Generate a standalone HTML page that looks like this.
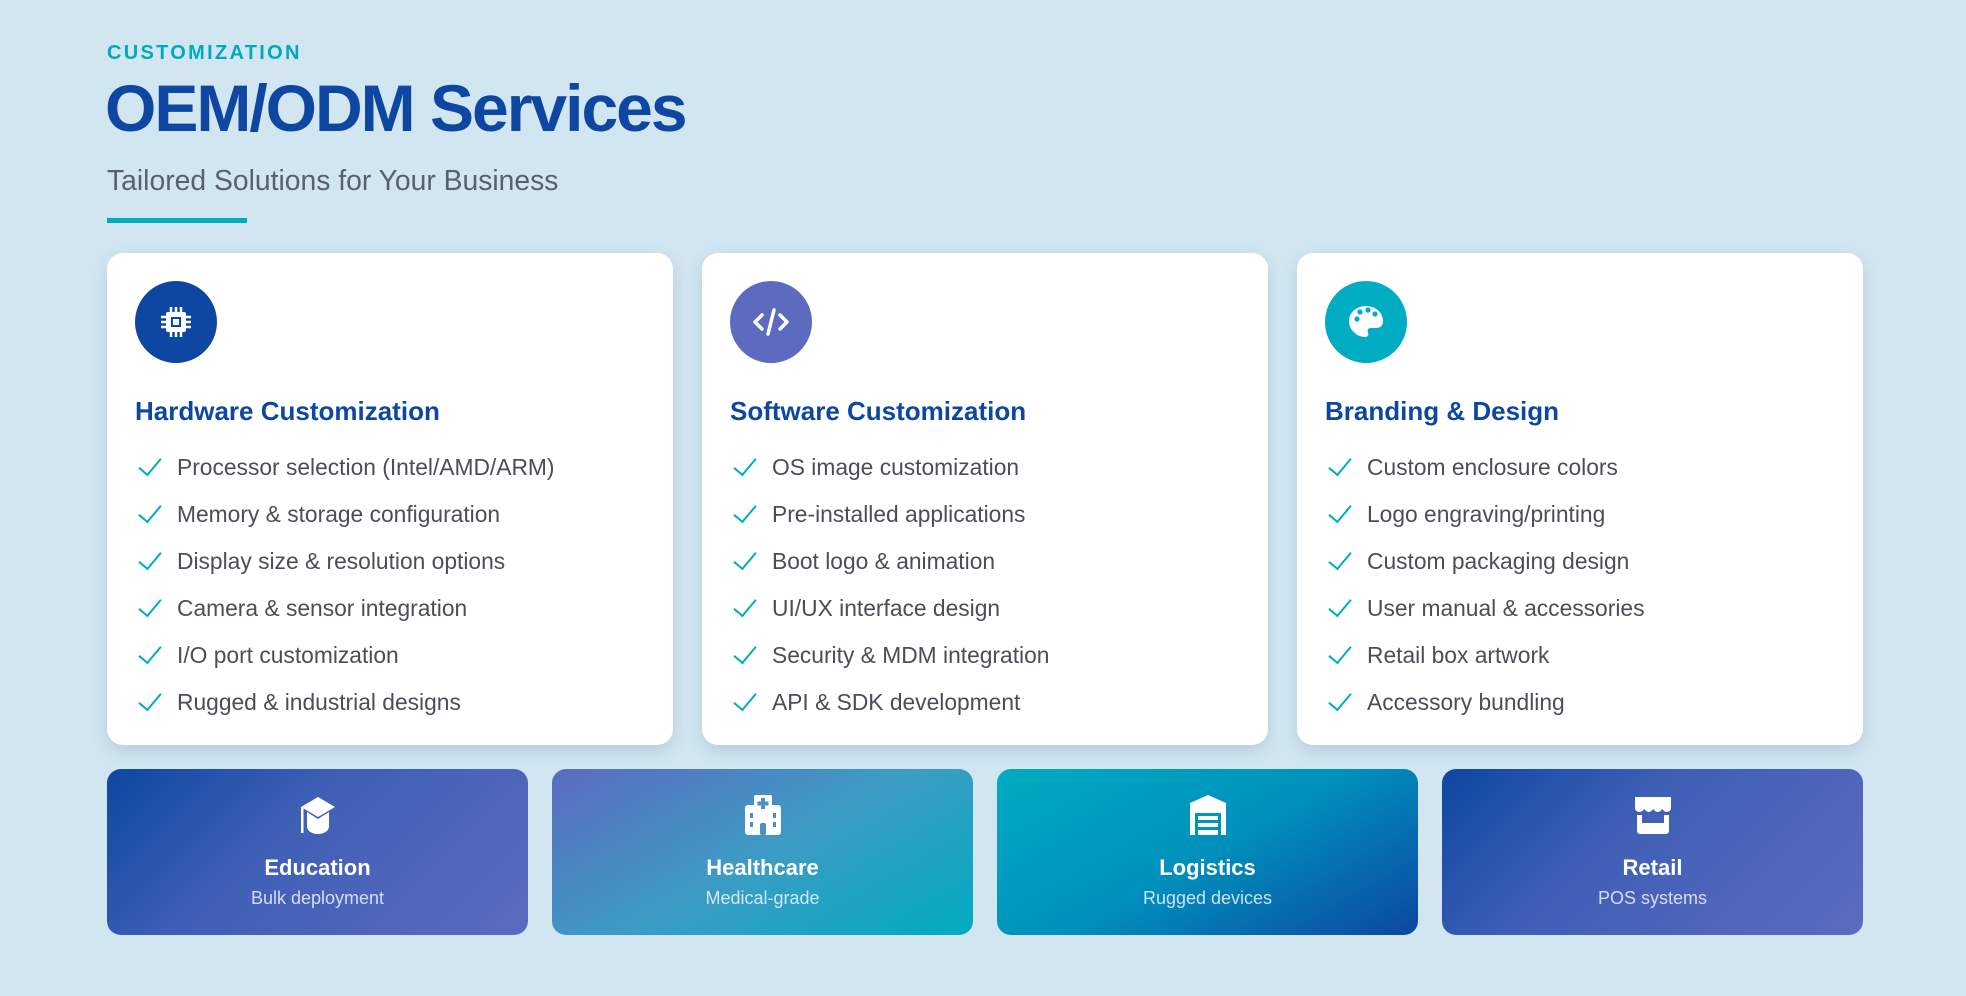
<!DOCTYPE html>
<html><head><meta charset="utf-8"><style>
*{margin:0;padding:0;box-sizing:border-box}
body{width:1966px;height:996px;background:#d1e6f1;font-family:"Liberation Sans",sans-serif;position:relative;overflow:hidden}
.a{position:absolute}
.kick{left:107px;top:41px;font-size:20px;font-weight:bold;color:#00a9be;letter-spacing:2.3px;line-height:24px}
.title{left:105px;top:70px;font-size:66px;font-weight:bold;color:#0d47a1;letter-spacing:-2px;line-height:76px;white-space:nowrap}
.sub{left:107px;top:164px;font-size:28.3px;color:#58616b;line-height:32px;white-space:nowrap}
.bar{left:107px;top:218px;width:140px;height:5px;background:#00acc1}
.card{top:253px;width:566px;height:492px;background:#fff;border-radius:16px;box-shadow:0 6px 16px rgba(60,100,140,.18)}
.ic{position:absolute;left:28px;top:28px;width:82px;height:82px;border-radius:50%;display:flex;align-items:center;justify-content:center}
.ct{position:absolute;left:28px;top:145px;font-size:26px;font-weight:bold;color:#0d47a1;line-height:26px;white-space:nowrap}
ul{position:absolute;left:31px;top:191px;list-style:none}
li{height:47px;line-height:47px;font-size:22.8px;color:#4a4f56;white-space:nowrap;position:relative;padding-left:39px}
li:before{content:"";position:absolute;left:6px;top:9px;width:10px;height:20px;border-right:2.5px solid #00acc1;border-bottom:2.5px solid #00acc1;transform:rotate(40deg)}
.bc{top:769px;width:421px;height:166px;border-radius:14px;color:#fff;text-align:center}
.bc svg{position:absolute;left:189px;top:24px}
.bt{position:absolute;left:0;right:0;top:87px;font-size:22px;font-weight:bold;line-height:24px}
.bs{position:absolute;left:0;right:0;top:119px;font-size:18px;line-height:20px;color:rgba(255,255,255,.78)}
</style></head><body>
<div class="a kick">CUSTOMIZATION</div>
<div class="a title">OEM/ODM Services</div>
<div class="a sub">Tailored Solutions for Your Business</div>
<div class="a bar"></div>

<div class="a card" style="left:107px">
<div class="ic" style="background:#0d47a1"><svg width="34" height="34" viewBox="0 0 34 34"><rect x="7" y="7" width="20" height="20" rx="2" fill="#fff"/><rect x="12" y="12" width="10" height="10" fill="#0d47a1"/><rect x="14" y="14" width="6" height="6" fill="#fff"/><g stroke="#fff" stroke-width="2.5"><path d="M12 2v5M17 2v5M22 2v5M12 27v5M17 27v5M22 27v5M2 12h5M2 17h5M2 22h5M27 12h5M27 17h5M27 22h5"/></g></svg></div>
<div class="ct">Hardware Customization</div>
<ul><li>Processor selection (Intel/AMD/ARM)</li><li>Memory &amp; storage configuration</li><li>Display size &amp; resolution options</li><li>Camera &amp; sensor integration</li><li>I/O port customization</li><li>Rugged &amp; industrial designs</li></ul>
</div>
<div class="a card" style="left:702px">
<div class="ic" style="background:#5c6bc0"><svg width="40" height="34" viewBox="0 0 40 34"><g fill="none" stroke="#fff" stroke-width="3.5" stroke-linecap="round" stroke-linejoin="round"><path d="M11 10l-7 7 7 7M29 10l7 7-7 7M23 5l-6 24"/></g></svg></div>
<div class="ct">Software Customization</div>
<ul><li>OS image customization</li><li>Pre-installed applications</li><li>Boot logo &amp; animation</li><li>UI/UX interface design</li><li>Security &amp; MDM integration</li><li>API &amp; SDK development</li></ul>
</div>
<div class="a card" style="left:1297px">
<div class="ic" style="background:#00acc1"><svg width="38" height="36" viewBox="0 0 38 36"><path d="M19 2C9 2 2 9 2 17c0 9 8 16 16 16 3 0 4-2 3-4-1-3 0-5 3-5h5c5 0 7-3 7-7C36 9 29 2 19 2z" fill="#fff"/><g fill="#00acc1"><circle cx="10" cy="15" r="2.6"/><circle cx="13" cy="8" r="2.6"/><circle cx="21" cy="6" r="2.6"/><circle cx="28" cy="10" r="2.6"/></g></svg></div>
<div class="ct">Branding &amp; Design</div>
<ul><li>Custom enclosure colors</li><li>Logo engraving/printing</li><li>Custom packaging design</li><li>User manual &amp; accessories</li><li>Retail box artwork</li><li>Accessory bundling</li></ul>
</div>

<div class="a bc" style="left:107px;background:linear-gradient(135deg,#0d47a1 0%,#3f5fb6 40%,#5c6bc0 100%)">
<svg width="44" height="44" viewBox="0 0 44 44"><path d="M22 4l17 10-17 10L5 14z" fill="#fff"/><path d="M11 19v14c0 5 5 8 11 8s11-3 11-8V19l-11 7z" fill="#fff"/><rect x="5" y="14" width="2.5" height="26" fill="#fff"/></svg>
<div class="bt">Education</div><div class="bs">Bulk deployment</div></div>
<div class="a bc" style="left:552px;background:linear-gradient(150deg,#5c6bc0 0%,#3d9bc4 50%,#00acc1 100%)">
<svg width="44" height="44" viewBox="0 0 44 44"><rect x="13" y="2" width="18" height="12" rx="2" fill="#fff"/><rect x="4" y="12" width="36" height="30" rx="3" fill="#fff"/><g fill="#4a8fc6"><rect x="20" y="5" width="4" height="11"/><rect x="16.5" y="8.5" width="11" height="4"/><rect x="9" y="20" width="3" height="5"/><rect x="32" y="20" width="3" height="5"/><rect x="9" y="29" width="3" height="5"/><rect x="32" y="29" width="3" height="5"/><rect x="19" y="30" width="6" height="12" rx="2"/></g></svg>
<div class="bt">Healthcare</div><div class="bs">Medical-grade</div></div>
<div class="a bc" style="left:997px;background:linear-gradient(150deg,#00acc1 0%,#0090bc 50%,#0d47a1 100%)">
<svg width="44" height="44" viewBox="0 0 44 44"><path d="M22 2L40 10v32H35V20H9v22H4V10z" fill="#fff"/><g fill="#fff"><rect x="12" y="23" width="20" height="4"/><rect x="12" y="30" width="20" height="4"/><rect x="12" y="37" width="20" height="5"/></g></svg>
<div class="bt">Logistics</div><div class="bs">Rugged devices</div></div>
<div class="a bc" style="left:1442px;background:linear-gradient(135deg,#0d47a1 0%,#3f5fb6 40%,#5c6bc0 100%)">
<svg width="44" height="44" viewBox="0 0 44 44"><path d="M4 4h36v11c0 3-3 4-4.5 4S32 17 31 16c-1 2-3 3-4.5 3S23 17 22 16c-1 2-3 3-4.5 3S14 17 13 16c-1 2-3 3-4.5 3S4 18 4 15z" fill="#fff"/><path d="M6 22h5v8h22v-8h5v16a3 3 0 0 1-3 3H9a3 3 0 0 1-3-3z" fill="#fff"/></svg>
<div class="bt">Retail</div><div class="bs">POS systems</div></div>
</body></html>
